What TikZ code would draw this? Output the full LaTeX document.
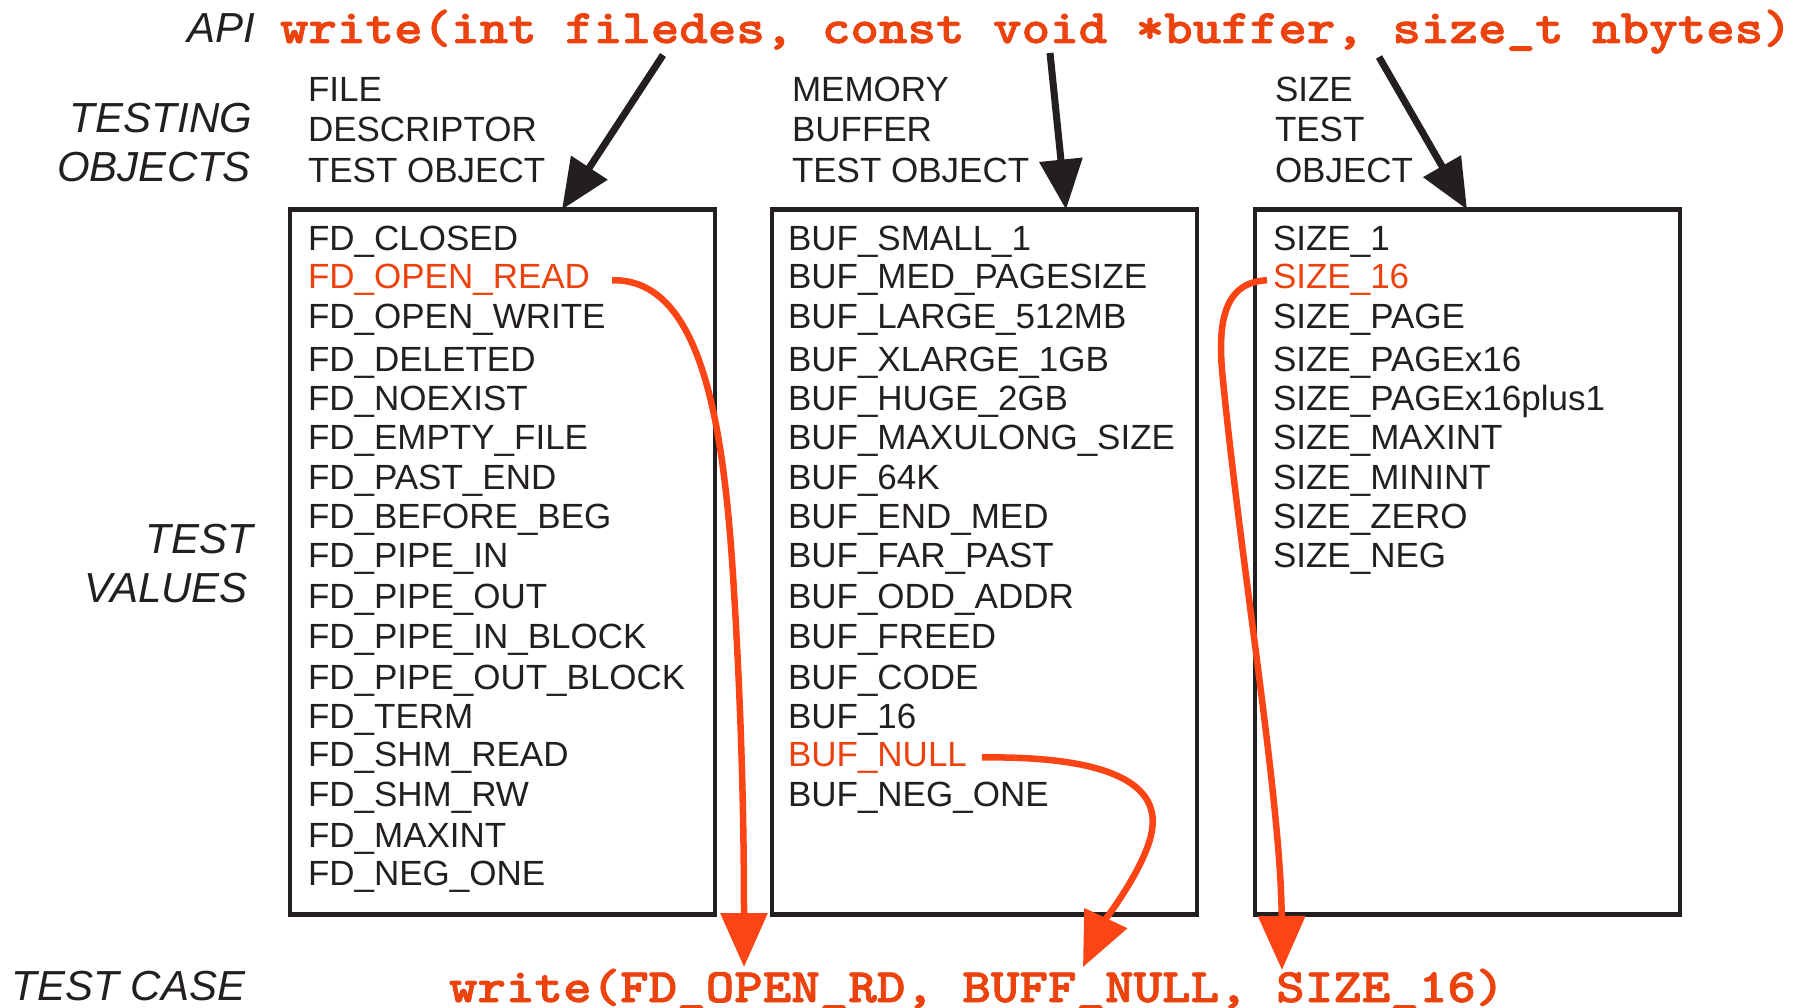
\documentclass[tikz,border=0pt]{standalone}
\usepackage{fontspec}
\setmainfont{Liberation Sans}
\newfontfamily\codefam{lmmonolt10-bold.otf}[FakeBold=1.6,FakeStretch=1.132]
\usetikzlibrary{arrows.meta,calc}

\definecolor{ink}{RGB}{35,31,32}
\definecolor{hot}{RGB}{236,66,14}
\definecolor{wire}{RGB}{252,68,20}

\newcommand\valfont{\fontsize{35}{42}\selectfont}
\newcommand\lblfont{\fontsize{42}{50}\selectfont\itshape}
\newcommand\codefnt{\fontsize{48}{56}\selectfont\codefam}

\begin{document}
\begin{tikzpicture}[x=1pt,y=-1pt,
  every node/.style={inner sep=0pt,outer sep=0pt},
  item/.style={anchor=base west,font=\valfont,text=ink},
  tag/.style={anchor=base east,font=\lblfont,text=ink},
  code/.style={anchor=base west,font=\codefnt,text=hot},
  panel/.style={draw=ink,line width=4.5pt,anchor=north west,
                minimum width=425pt,minimum height=705pt},
  feed/.style={draw=ink,line width=7pt,-{Triangle[length=50pt,width=42pt]}},
  pick/.style={draw=wire,line width=6.5pt,-{Triangle[length=54pt,width=46pt]}}]

\useasboundingbox (0,0) rectangle (1801,1008);
\fill[white] (0,0) rectangle (1801,1008);

% left-hand captions
\node[tag] (api)   at (255,43)  {API};
\node[tag] (tobj1) at (252,133) {TESTING};
\node[tag] (tobj2) at (251,182) {OBJECTS};
\node[tag] (tval1) at (253,553) {TEST};
\node[tag] (tval2) at (248,602) {VALUES};
\node[anchor=base west,font=\lblfont,text=ink] (tcase) at (12,1000) {TEST CASE};

% function signature and the resulting call
\node[code] (sig)  at (280,43)   {write(int filedes, const void *buffer, size\_t nbytes)};
\node[code] (call) at (449,1002) {write(FD\_OPEN\_RD, BUFF\_NULL, SIZE\_16)};

% test object headings
\node[item] (h1a) at (308,102)  {FILE};
\node[item] (h1b) at (308,142)  {DESCRIPTOR};
\node[item] (h1c) at (308,183)  {TEST OBJECT};
\node[item] (h2a) at (792,102)  {MEMORY};
\node[item] (h2b) at (792,142)  {BUFFER};
\node[item] (h2c) at (792,183)  {TEST OBJECT};
\node[item] (h3a) at (1275,102) {SIZE};
\node[item] (h3b) at (1275,142) {TEST};
\node[item] (h3c) at (1275,183) {OBJECT};

% value panels
\node[panel] (fdbox)   at (290,209.5)  {};
\node[panel] (bufbox)  at (772,209.5)  {};
\node[panel] (sizebox) at (1255,209.5) {};

\foreach \y/\t [count=\i] in {
  251/FD\_CLOSED, 289/{\textcolor{hot}{FD\_OPEN\_READ}}, 328/FD\_OPEN\_WRITE,
  371/FD\_DELETED, 410/FD\_NOEXIST, 449/FD\_EMPTY\_FILE, 489/FD\_PAST\_END,
  528/FD\_BEFORE\_BEG, 567/FD\_PIPE\_IN, 608/FD\_PIPE\_OUT,
  648/FD\_PIPE\_IN\_BLOCK, 689/FD\_PIPE\_OUT\_BLOCK, 728/FD\_TERM,
  766/FD\_SHM\_READ, 806/FD\_SHM\_RW, 847/FD\_MAXINT, 885/FD\_NEG\_ONE}
  \node[item] (fd\i) at (308,\y) {\t};

\foreach \y/\t [count=\i] in {
  251/BUF\_SMALL\_1, 289/BUF\_MED\_PAGESIZE, 328/BUF\_LARGE\_512MB,
  371/BUF\_XLARGE\_1GB, 410/BUF\_HUGE\_2GB, 449/BUF\_MAXULONG\_SIZE,
  489/BUF\_64K, 528/BUF\_END\_MED, 567/BUF\_FAR\_PAST, 608/BUF\_ODD\_ADDR,
  648/BUF\_FREED, 689/BUF\_CODE, 728/BUF\_16,
  766/{\textcolor{hot}{BUF\_NULL}}, 806/BUF\_NEG\_ONE}
  \node[item] (buf\i) at (788,\y) {\t};

\foreach \y/\t [count=\i] in {
  251/SIZE\_1, 289/{\textcolor{hot}{SIZE\_16}}, 328/SIZE\_PAGE,
  371/SIZE\_PAGEx16, 410/SIZE\_PAGEx16plus1, 449/SIZE\_MAXINT,
  489/SIZE\_MININT, 528/SIZE\_ZERO, 567/SIZE\_NEG}
  \node[item] (sz\i) at (1273,\y) {\t};

% parameters feeding the test objects
\coordinate (p1) at (663,55);
\coordinate (p2) at (1050,53);
\coordinate (p3) at (1379,57);
\draw[feed] (p1) -- (562,0 |- fdbox.north);
\draw[feed] (p2) -- (1066,0 |- bufbox.north);
\draw[feed] (p3) -- (1467,0 |- sizebox.north);

% chosen values flowing into the test case
\coordinate (c1) at (744,967);
\coordinate (c2) at (1083,967);
\coordinate (c3) at (1282,970);
\draw[pick] ($(fd2.east)+(22,0)$) .. controls (700,278) and (722,420) .. (732,560)
  .. controls (740,680) and (744,800) .. (c1);
\draw[pick] ($(buf14.east)+(15,0)$) .. controls (1100,756) and (1160,780) .. (1152,830)
  .. controls (1147,865) and (1105,920) .. (c2);
\draw[pick] ($(sz2.west)+(-6,0)$) .. controls (1225,282) and (1218,320) .. (1222,370)
  .. controls (1240,560) and (1281,800) .. (c3);
\end{tikzpicture}
\end{document}
